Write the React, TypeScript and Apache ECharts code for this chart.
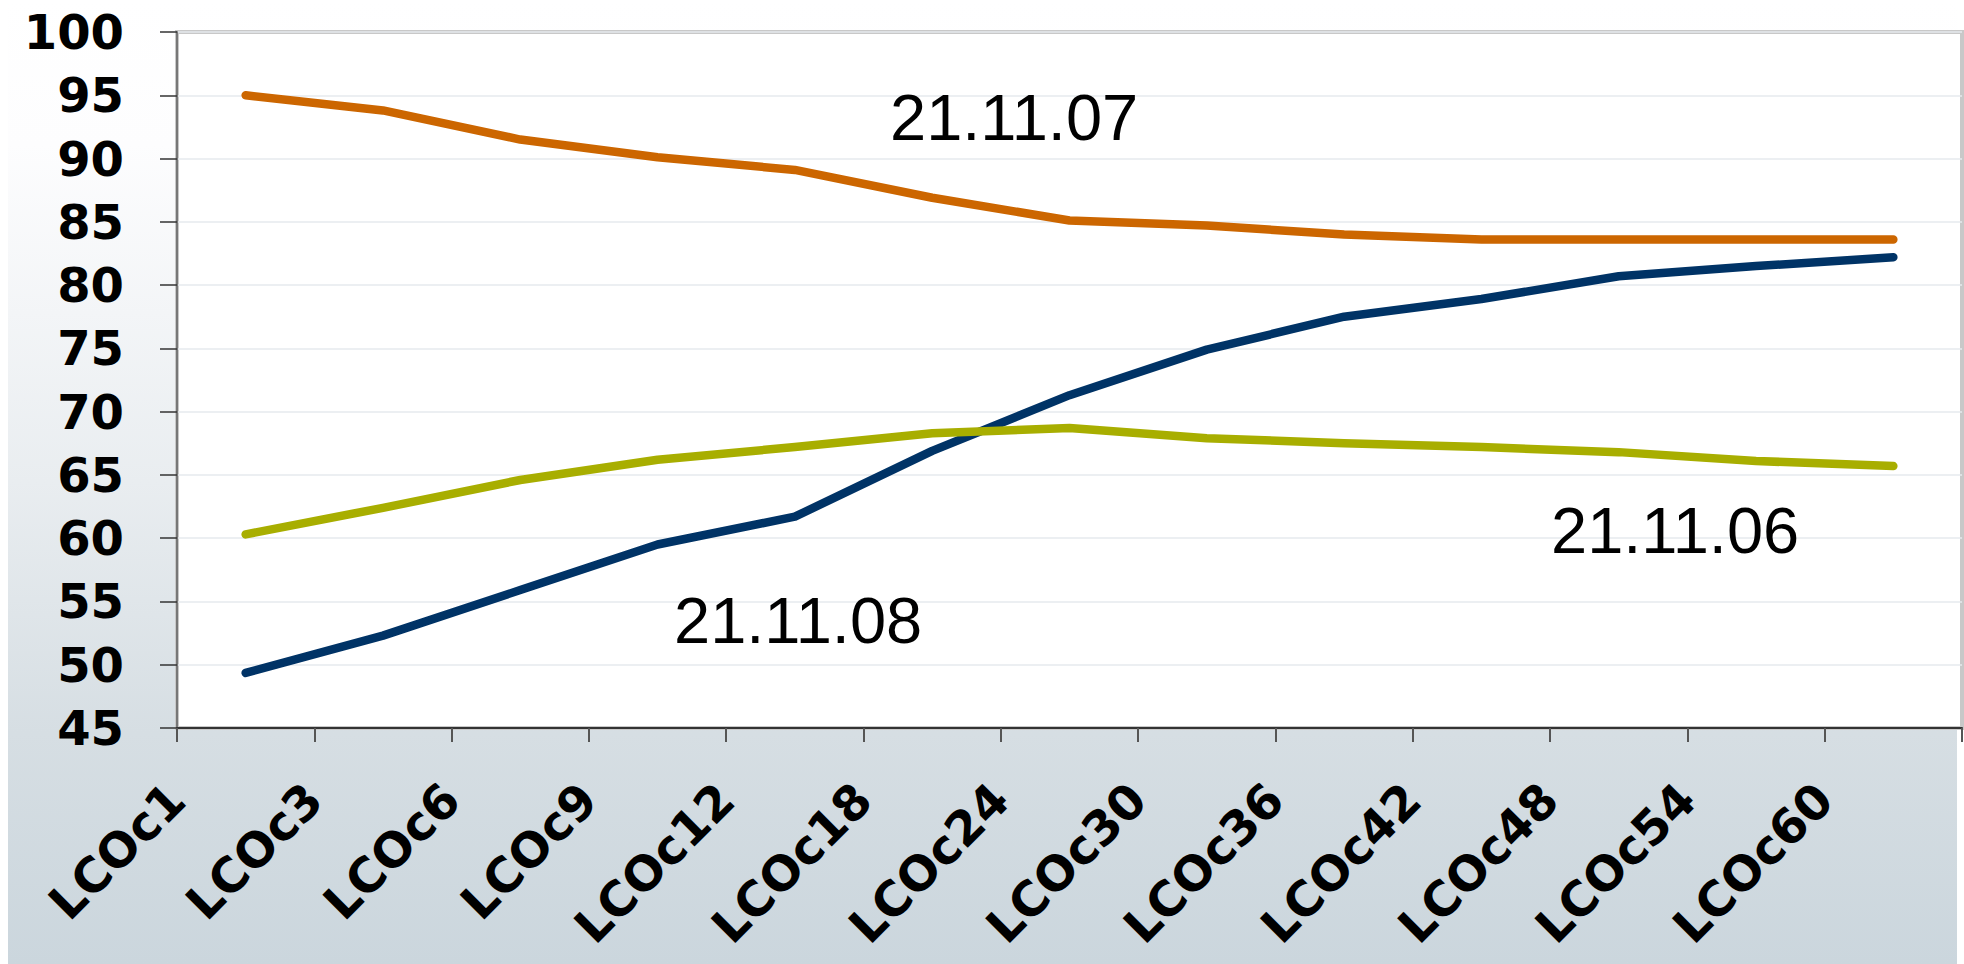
import React, { useEffect, useRef } from "react";
import * as echarts from "echarts";

const categories = ["LCOc1", "LCOc3", "LCOc6", "LCOc9", "LCOc12", "LCOc18", "LCOc24", "LCOc30", "LCOc36", "LCOc42", "LCOc48", "LCOc54", "LCOc60"];
const series211106 = [60.3, 62.4, 64.6, 66.2, 67.2, 68.3, 68.7, 67.9, 67.5, 67.2, 66.8, 66.1, 65.7];
const series211107 = [95.0, 93.8, 91.5, 90.1, 89.1, 86.9, 85.1, 84.7, 84.0, 83.6, 83.6, 83.6, 83.6];
const series211108 = [49.35, 52.3, 55.9, 59.5, 61.7, 66.9, 71.3, 74.9, 77.5, 78.9, 80.7, 81.5, 82.2];
const seriesNames = ["21.11.06", "21.11.07", "21.11.08"];
const yMin = 45;
const yMax = 100;
const yStep = 5;

const FONT = '"Liberation Sans", Arial, Helvetica, sans-serif';
const AXIS_FONT = '"DejaVu Sans", Verdana, sans-serif';

export default function App() {
  const ref = useRef<HTMLDivElement>(null);
  useEffect(() => {
    if (!ref.current) return;
    const chart = echarts.init(ref.current, undefined, { renderer: "svg" });
    const lineStyle = (color: string) => ({ color, width: 8.5, cap: "round", join: "round" });
    chart.setOption({
      animation: false,
      backgroundColor: "#ffffff",
      grid: {
        left: 177,
        right: 2,
        top: 32,
        bottom: 236,
        show: true,
        backgroundColor: "#ffffff",
        borderColor: "#c8c8c8",
        borderWidth: 4,
        containLabel: false,
      },
      xAxis: {
        type: "category",
        data: categories,
        boundaryGap: true,
        axisLine: { show: true, lineStyle: { color: "#333333", width: 2 } },
        axisTick: { show: true, length: 14, alignWithLabel: false, interval: 0, lineStyle: { color: "#555555", width: 2 } },
        axisLabel: {
          interval: 0,
          rotate: 45,
          margin: -6,
          padding: [0, 98, 0, 0],
          color: "#000000",
          fontFamily: AXIS_FONT,
          fontWeight: "bold",
          fontSize: 48,
          hideOverlap: false,
        },
        splitLine: { show: false },
      },
      yAxis: {
        type: "value",
        min: yMin,
        max: yMax,
        interval: yStep,
        axisLine: { show: true, lineStyle: { color: "#777777", width: 2 } },
        axisTick: { show: true, length: 17, lineStyle: { color: "#333333", width: 1.5 } },
        axisLabel: {
          margin: 53,
          padding: [0, 0, 5, 0],
          color: "#000000",
          fontFamily: AXIS_FONT,
          fontWeight: "bold",
          fontSize: 48,
        },
        splitLine: { show: true, lineStyle: { color: "#e6eaee", width: 1.5 } },
      },
      series: [
        { name: seriesNames[2], type: "line", data: series211108, symbol: "none", lineStyle: lineStyle("#003366"), z: 3 },
        { name: seriesNames[1], type: "line", data: series211107, symbol: "none", lineStyle: lineStyle("#cc6600"), z: 4 },
        { name: seriesNames[0], type: "line", data: series211106, symbol: "none", lineStyle: lineStyle("#a8ae00"), z: 5 },
      ],
      graphic: [
        {
          type: "rect",
          z: -10,
          silent: true,
          shape: { x: 8, y: 0, width: 1949, height: 964 },
          style: {
            fill: new echarts.graphic.LinearGradient(0, 0, 0, 1, [
              { offset: 0, color: "#ffffff" },
              { offset: 0.15, color: "#fdfdfe" },
              { offset: 0.5, color: "#e9edf0" },
              { offset: 0.76, color: "#d6dee3" },
              { offset: 1, color: "#cbd6dd" },
            ]),
          },
        },
        {
          type: "text",
          x: 890,
          y: 117.5,
          z: 100,
          style: { text: seriesNames[1], font: `65px ${FONT}`, fill: "#000000", align: "left", verticalAlign: "middle" },
        },
        {
          type: "text",
          x: 674,
          y: 620.8,
          z: 100,
          style: { text: seriesNames[2], font: `65px ${FONT}`, fill: "#000000", align: "left", verticalAlign: "middle" },
        },
        {
          type: "text",
          x: 1551,
          y: 530.8,
          z: 100,
          style: { text: seriesNames[0], font: `65px ${FONT}`, fill: "#000000", align: "left", verticalAlign: "middle" },
        },
      ],
    });
    return () => chart.dispose();
  }, []);
  return <div ref={ref} style={{ position: "absolute", left: 0, top: 0, width: 1964, height: 964 }} />;
}
